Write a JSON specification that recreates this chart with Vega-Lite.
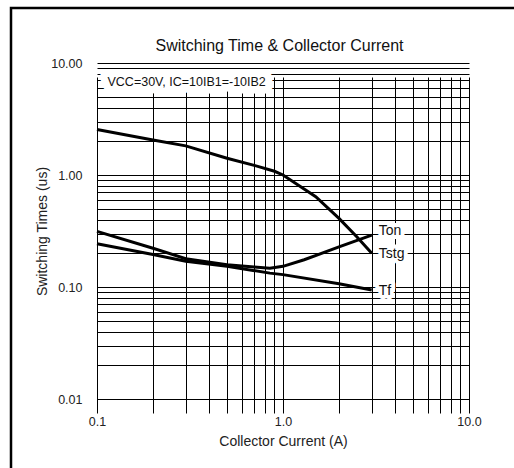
{
  "$schema": "https://vega.github.io/schema/vega-lite/v6.json",
  "autosize": "none",
  "padding": {"left": 11, "top": 8, "right": 0, "bottom": 0},
  "width": 503,
  "height": 460,
  "background": "white",
  "config": {
    "font": "Liberation Sans",
    "view": {"stroke": "black", "strokeWidth": 2.5, "strokeDash": [503, 963, 460]}
  },
  "title": {
    "text": "Switching Time & Collector Current",
    "fontSize": 16,
    "fontWeight": "normal",
    "font": "Liberation Sans",
    "color": "#111",
    "anchor": "middle",
    "frame": "group",
    "baseline": "middle",
    "offset": -54,
    "dx": 17
  },
  "datasets": {
    "curves": [
      {"series": "Tstg", "current": 0.1, "time": 2.55},
      {"series": "Tstg", "current": 0.2, "time": 2.05},
      {"series": "Tstg", "current": 0.3, "time": 1.82},
      {"series": "Tstg", "current": 0.5, "time": 1.41},
      {"series": "Tstg", "current": 0.7, "time": 1.22},
      {"series": "Tstg", "current": 0.9, "time": 1.08},
      {"series": "Tstg", "current": 1.0, "time": 1.0},
      {"series": "Tstg", "current": 1.5, "time": 0.64},
      {"series": "Tstg", "current": 2.0, "time": 0.41},
      {"series": "Tstg", "current": 2.5, "time": 0.28},
      {"series": "Tstg", "current": 3.0, "time": 0.2},
      {"series": "Ton", "current": 0.1, "time": 0.314},
      {"series": "Ton", "current": 0.2, "time": 0.222},
      {"series": "Ton", "current": 0.3, "time": 0.179},
      {"series": "Ton", "current": 0.5, "time": 0.158},
      {"series": "Ton", "current": 0.7, "time": 0.151},
      {"series": "Ton", "current": 0.85, "time": 0.147},
      {"series": "Ton", "current": 1.0, "time": 0.153},
      {"series": "Ton", "current": 1.3, "time": 0.175},
      {"series": "Ton", "current": 2.0, "time": 0.228},
      {"series": "Ton", "current": 3.0, "time": 0.29},
      {"series": "Tf", "current": 0.1, "time": 0.243},
      {"series": "Tf", "current": 0.2, "time": 0.195},
      {"series": "Tf", "current": 0.3, "time": 0.17},
      {"series": "Tf", "current": 0.5, "time": 0.153},
      {"series": "Tf", "current": 0.85, "time": 0.133},
      {"series": "Tf", "current": 1.0, "time": 0.129},
      {"series": "Tf", "current": 2.0, "time": 0.107},
      {"series": "Tf", "current": 3.0, "time": 0.094}
    ],
    "note": [
      {"current": 0.1, "time": 10, "text": "VCC=30V, IC=10IB1=-10IB2"}
    ]
  },
  "encoding": {
    "x": {
      "field": "current",
      "type": "quantitative",
      "scale": {"type": "log", "domain": [0.1, 10], "range": [86, 458]},
      "axis": {
        "values": [0.1, 0.2, 0.3, 0.4, 0.5, 0.6, 0.7, 0.8, 0.9, 1, 2, 3, 4, 5, 6, 7, 8, 9, 10],
        "labelExpr": "indexof([0.1, 1, 10], datum.value) >= 0 ? format(datum.value, '.1f') : ''",
        "grid": true,
        "gridColor": "black",
        "gridOpacity": 1,
        "gridWidth": 1,
        "domain": false,
        "ticks": false,
        "tickSize": 0,
        "offset": -69,
        "labelPadding": 16,
        "labelFontSize": 12.5,
        "labelColor": "#222",
        "labelOverlap": false,
        "labelFlush": false,
        "title": "Collector Current (A)",
        "titleFontSize": 14,
        "titleFontWeight": "normal",
        "titleColor": "#222",
        "titlePadding": 7
      }
    },
    "y": {
      "field": "time",
      "type": "quantitative",
      "scale": {"type": "log", "domain": [0.01, 10], "range": [391, 55]},
      "axis": {
        "values": [0.01, 0.02, 0.03, 0.04, 0.05, 0.06, 0.07, 0.08, 0.09, 0.1, 0.2, 0.3, 0.4, 0.5, 0.6, 0.7, 0.8, 0.9, 1, 2, 3, 4, 5, 6, 7, 8, 9, 10],
        "labelExpr": "indexof([0.01, 0.1, 1, 10], datum.value) >= 0 ? format(datum.value, '.2f') : ''",
        "grid": true,
        "gridColor": "black",
        "gridOpacity": 1,
        "gridWidth": 1,
        "domain": false,
        "ticks": false,
        "tickSize": 0,
        "offset": -86,
        "labelPadding": 15,
        "labelFontSize": 12.5,
        "labelColor": "#222",
        "labelOverlap": false,
        "title": "Switching Times (us)",
        "titleFontSize": 14,
        "titleFontWeight": "normal",
        "titleColor": "#222",
        "titlePadding": 1
      }
    }
  },
  "layer": [
    {
      "data": {"name": "note"},
      "mark": {"type": "text", "align": "left", "baseline": "middle", "dx": 10.5, "dy": 19, "fontSize": 12.5, "fill": "white", "stroke": "white", "strokeWidth": 15, "strokeJoin": "round"},
      "encoding": {"text": {"field": "text"}}
    },
    {
      "data": {"name": "note"},
      "mark": {"type": "text", "align": "left", "baseline": "middle", "dx": 10.5, "dy": 19, "fontSize": 12.5, "color": "#111"},
      "encoding": {"text": {"field": "text"}}
    },
    {
      "data": {"name": "curves"},
      "transform": [{"filter": "datum.current == 3 && datum.series != 'Ton'"}],
      "mark": {"type": "text", "align": "left", "baseline": "middle", "dx": 7, "dy": 1, "fontSize": 14, "fill": "white", "stroke": "white", "strokeWidth": 8, "strokeJoin": "round"},
      "encoding": {"text": {"field": "series"}}
    },
    {
      "data": {"name": "curves"},
      "transform": [{"filter": "datum.series == 'Ton' && datum.current == 3"}],
      "mark": {"type": "text", "align": "left", "baseline": "middle", "dx": 7, "dy": -4, "fontSize": 14, "fill": "white", "stroke": "white", "strokeWidth": 8, "strokeJoin": "round"},
      "encoding": {"text": {"field": "series"}}
    },
    {
      "data": {"name": "curves"},
      "mark": {"type": "line", "color": "black", "strokeWidth": 3},
      "encoding": {"detail": {"field": "series"}}
    },
    {
      "data": {"name": "curves"},
      "transform": [{"filter": "datum.current == 3 && datum.series != 'Ton'"}],
      "mark": {"type": "text", "align": "left", "baseline": "middle", "dx": 7, "dy": 1, "fontSize": 14, "color": "#111"},
      "encoding": {"text": {"field": "series"}}
    },
    {
      "data": {"name": "curves"},
      "transform": [{"filter": "datum.series == 'Ton' && datum.current == 3"}],
      "mark": {"type": "text", "align": "left", "baseline": "middle", "dx": 7, "dy": -4, "fontSize": 14, "color": "#111"},
      "encoding": {"text": {"field": "series"}}
    }
  ]
}
